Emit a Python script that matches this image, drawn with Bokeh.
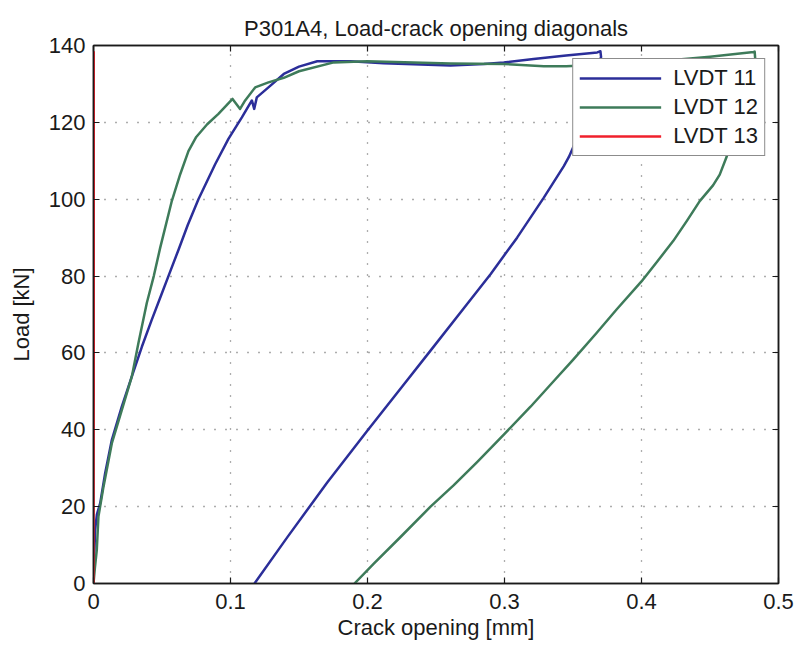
from bokeh.plotting import figure
from bokeh.models import LinearAxis, FixedTicker, Range1d, Legend, LegendItem
from bokeh.embed import file_html
from bokeh.resources import INLINE

# ---- data ----
x11 = [0, 0.0004, 0.0012, 0.0025, 0.0049, 0.0085, 0.0134, 0.0207, 0.028, 0.0353, 0.0425,
       0.050, 0.0547, 0.062, 0.0688, 0.0766, 0.0888, 0.0985, 0.1083, 0.1156, 0.1173, 0.1192,
       0.1277, 0.1389, 0.150, 0.1633, 0.1876, 0.2117, 0.2606, 0.285, 0.2995, 0.3212, 0.345,
       0.3677, 0.3700, 0.3705, 0.369, 0.366, 0.362, 0.357, 0.352, 0.347, 0.3433,
       0.3287, 0.3092, 0.2898, 0.2703, 0.246, 0.2265, 0.2, 0.1706, 0.1414, 0.1175]
y11 = [0, 6, 14, 18, 20.9, 28.7, 37.4, 46.1, 53.9, 61.6, 68.6,
       75.6, 80, 86.8, 93.3, 100, 109.1, 115.7, 121.3, 125.7, 123.5, 126.5,
       129.1, 132.6, 134.5, 135.9, 135.9, 135.4, 134.8, 135.2, 135.6, 136.5, 137.4,
       138.2, 138.5, 137.0, 135.5, 131.5, 126, 120, 115, 111, 108.6,
       100.4, 90, 80.5, 71.6, 60.6, 51.8, 39.8, 26.3, 12.0, 0]

x12 = [0, 0.001, 0.0024, 0.0036, 0.0073, 0.0134, 0.0207, 0.028, 0.0328, 0.0389,
       0.0440, 0.0487, 0.0572, 0.0633, 0.0693, 0.075, 0.083, 0.0912, 0.1015, 0.107, 0.1107,
       0.118, 0.1277, 0.1389, 0.150, 0.1754, 0.1998, 0.2606, 0.2995, 0.3287, 0.345,
       0.40, 0.450, 0.4818, 0.4826, 0.4830, 0.482, 0.479, 0.475, 0.470, 0.4644, 0.462,
       0.4571, 0.4522, 0.4425, 0.433, 0.4231, 0.4115, 0.4, 0.3818, 0.3672, 0.35, 0.3355,
       0.319, 0.3002, 0.28, 0.263, 0.246, 0.2241, 0.2046, 0.1905]
y12 = [0, 4, 8.7, 17.4, 25.2, 36.5, 45.2, 53.9, 62.6, 73,
       80, 87.4, 99.6, 106.5, 112.5, 116.2, 119.5, 122.2, 126.1, 123.5, 125.7,
       129.1, 130.4, 131.6, 133.3, 135.6, 135.9, 135.3, 135.2, 134.6, 134.6,
       135.5, 137.1, 138.3, 138.4, 136.5, 133, 127.5, 122, 117, 113.6, 110.9,
       106.4, 103.6, 99.5, 94.3, 89.1, 83.8, 78.6, 71.3, 65.2, 58.2, 52.5,
       46, 39, 31.6, 25.6, 20, 12.1, 5.2, 0]

x13 = [0, 0.0002, 0.0002]
y13 = [0, 60, 138.5]

series_names = ["LVDT 11", "LVDT 12", "LVDT 13"]
series_colors = ["#2B2E99", "#3E7B5A", "#F0202C"]

xticks = [0, 0.1, 0.2, 0.3, 0.4, 0.5]
xtick_labels = ["0", "0.1", "0.2", "0.3", "0.4", "0.5"]
yticks = [0, 20, 40, 60, 80, 100, 120, 140]

title_text = "P301A4, Load-crack opening diagonals"
xlabel = "Crack opening [mm]"
ylabel = "Load [kN]"

FONT = "Liberation Sans"
TXT = "#1a1a1a"
FS = "22px"

p = figure(frame_width=685, frame_height=538,
           x_range=Range1d(0, 0.5), y_range=Range1d(0, 140),
           output_backend="svg", toolbar_location=None,
           min_border_left=93, min_border_right=16, min_border_top=45, min_border_bottom=68,
           background_fill_color="white", border_fill_color="white")

p.title.text = title_text
p.title.align = "center"
p.title.text_font = FONT
p.title.text_font_size = FS
p.title.text_font_style = "normal"
p.title.text_color = TXT

p.outline_line_color = "#1a1a1a"
p.outline_line_width = 1.5

for ax, ticks in ((p.xaxis[0], xticks), (p.yaxis[0], yticks)):
    ax.ticker = FixedTicker(ticks=ticks)
    ax.major_tick_in = 6
    ax.major_tick_out = 0
    ax.minor_tick_line_color = None
    ax.axis_line_color = "#1a1a1a"
    ax.axis_line_width = 1.5
    ax.major_tick_line_color = "#1a1a1a"
    ax.major_tick_line_width = 1.2
    ax.major_label_text_font = FONT
    ax.major_label_text_font_size = FS
    ax.major_label_text_color = TXT
    ax.axis_label_text_font = FONT
    ax.axis_label_text_font_size = FS
    ax.axis_label_text_font_style = "normal"
    ax.axis_label_text_color = TXT

p.xaxis[0].major_label_overrides = {t: l for t, l in zip(xticks, xtick_labels)}
p.xaxis[0].axis_label = xlabel
p.yaxis[0].axis_label = ylabel
p.xaxis[0].major_label_standoff = 10
p.yaxis[0].major_label_standoff = 8
p.xaxis[0].axis_label_standoff = 3
p.yaxis[0].axis_label_standoff = 12

for loc, ticks in (("above", xticks), ("right", yticks)):
    ax = LinearAxis(ticker=FixedTicker(ticks=ticks))
    ax.major_tick_in = 6
    ax.major_tick_out = 0
    ax.minor_tick_line_color = None
    ax.axis_line_color = "#1a1a1a"
    ax.axis_line_width = 1.5
    ax.major_tick_line_color = "#1a1a1a"
    ax.major_tick_line_width = 1.2
    ax.major_label_text_font_size = "0px"
    ax.major_label_standoff = 0
    p.add_layout(ax, loc)

p.xgrid.ticker = FixedTicker(ticks=xticks)
p.ygrid.ticker = FixedTicker(ticks=yticks)
for g in (p.xgrid[0], p.ygrid[0]):
    g.grid_line_color = "#333333"
    g.grid_line_dash = "1 10"
    g.grid_line_width = 1.3
    g.grid_line_alpha = 0.8

r11 = p.line(x11, y11, line_color=series_colors[0], line_width=2.5, line_join="round")
r12 = p.line(x12, y12, line_color=series_colors[1], line_width=2.5, line_join="round")
r13 = p.line(x13, y13, line_color=series_colors[2], line_width=2.5)

legend = Legend(items=[LegendItem(label=n, renderers=[r]) for n, r in zip(series_names, [r11, r12, r13])],
                location="top_right")
legend.label_text_font = FONT
legend.label_text_font_size = FS
legend.label_text_color = TXT
legend.border_line_color = "#1a1a1a"
legend.border_line_width = 1.5
legend.background_fill_alpha = 1
legend.glyph_width = 82
legend.glyph_height = 22
legend.label_height = 22
legend.label_standoff = 12
legend.spacing = 3
legend.padding = 6
legend.margin = 13
p.add_layout(legend)

open("out.html", "w").write(file_html(p, INLINE))
